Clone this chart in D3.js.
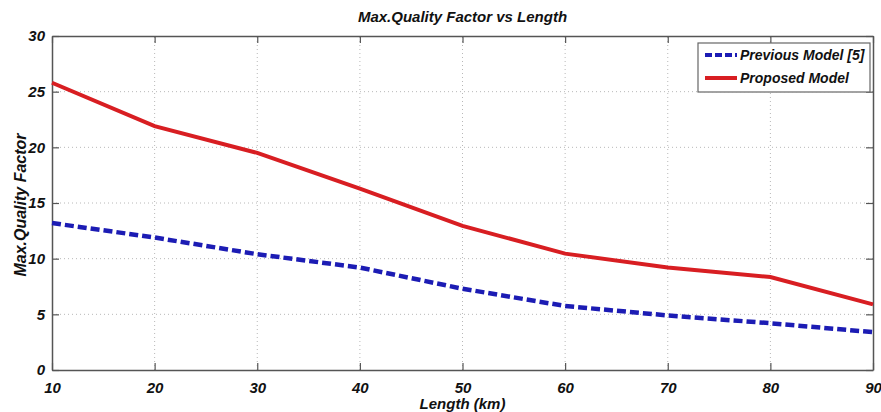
<!DOCTYPE html>
<html><head><meta charset="utf-8">
<script src="https://cdn.jsdelivr.net/npm/d3@7"></script>
<style>
body{margin:0;background:#fff;}
text{font-family:"Liberation Sans",Arial,sans-serif;font-weight:bold;font-style:italic;}
</style></head>
<body><svg id="c" width="881" height="412"></svg>
<script>
const lengths = [10,20,30,40,50,60,70,80,90];
const previousModel = [13.2,11.9,10.4,9.2,7.3,5.75,4.9,4.2,3.4];
const proposedModel = [25.8,21.9,19.5,16.3,12.95,10.45,9.2,8.35,5.9];
const xTicks = [10,20,30,40,50,60,70,80,90];
const yTicks = [0,5,10,15,20,25,30];
const seriesNames = ["Previous Model [5]","Proposed Model"];

const svg = d3.select("#c");
const m = {l:52,r:8,t:36,b:42};
const W = 881, H = 412;
const x = d3.scaleLinear().domain([10,90]).range([m.l, W-m.r]);
const y = d3.scaleLinear().domain([0,30]).range([H-m.b, m.t]);

// grid
const g = svg.append("g");
g.selectAll(".gx").data(xTicks.slice(1,-1)).enter().append("line")
 .attr("x1",d=>x(d)).attr("x2",d=>x(d)).attr("y1",y(0)).attr("y2",y(30))
 .attr("stroke","#b8b8b8").attr("stroke-width",1).attr("stroke-dasharray","1,3");
g.selectAll(".gy").data(yTicks.slice(1,-1)).enter().append("line")
 .attr("y1",d=>y(d)).attr("y2",d=>y(d)).attr("x1",x(10)).attr("x2",x(90))
 .attr("stroke","#b8b8b8").attr("stroke-width",1).attr("stroke-dasharray","1,3");

// axes
const xa = svg.append("g").attr("transform",`translate(0,${y(0)})`)
 .call(d3.axisBottom(x).tickValues(xTicks).tickSizeInner(-7).tickSizeOuter(0).tickPadding(12));
const xt = svg.append("g").attr("transform",`translate(0,${y(30)})`)
 .call(d3.axisTop(x).tickValues(xTicks).tickSizeInner(-7).tickSizeOuter(0).tickFormat(""));
const ya = svg.append("g").attr("transform",`translate(${x(10)},0)`)
 .call(d3.axisLeft(y).tickValues(yTicks).tickSizeInner(-7).tickSizeOuter(0).tickPadding(12));
const yr = svg.append("g").attr("transform",`translate(${x(90)},0)`)
 .call(d3.axisRight(y).tickValues(yTicks).tickSizeInner(-7).tickSizeOuter(0).tickFormat(""));
[xa,xt,ya,yr].forEach(a=>{
  a.selectAll("path").attr("stroke","#555").attr("stroke-width",1.5);
  a.selectAll("line").attr("stroke","#555").attr("stroke-width",1.2);
  a.selectAll("text").attr("font-size",15).attr("fill","#111")
   .style("font-family","'Liberation Sans',Arial,sans-serif").style("font-weight","bold").style("font-style","italic");
});
ya.selectAll("text").attr("dx",5);

// lines
const line = d3.line().x((d,i)=>x(lengths[i])).y(d=>y(d));
svg.append("path").datum(previousModel).attr("d",line).attr("fill","none")
 .attr("stroke","#1c1cb4").attr("stroke-width",4.5).attr("stroke-dasharray","9,4");
svg.append("path").datum(proposedModel).attr("d",line).attr("fill","none")
 .attr("stroke","#d81e22").attr("stroke-width",4);

// title and labels
svg.append("text").attr("x",(x(10)+x(90))/2).attr("y",22).attr("text-anchor","middle")
 .attr("font-size",15).attr("fill","#111").text("Max.Quality Factor vs Length");
svg.append("text").attr("x",(x(10)+x(90))/2).attr("y",409).attr("text-anchor","middle")
 .attr("font-size",15).attr("fill","#111").text("Length (km)");
svg.append("text").attr("transform",`translate(26,${(y(0)+y(30))/2 + 2}) rotate(-90)`)
 .attr("text-anchor","middle").attr("font-size",16).attr("fill","#111").text("Max.Quality Factor");

// legend
const lg = svg.append("g");
lg.append("rect").attr("x",698).attr("y",43).attr("width",172).attr("height",49)
 .attr("fill","#fff").attr("stroke","#666").attr("stroke-width",1.2);
const cols = ["#1c1cb4","#d81e22"], dashes=["7,3",null];
seriesNames.forEach((n,i)=>{
  const yy = 55 + i*23;
  lg.append("line").attr("x1",705).attr("x2",737).attr("y1",yy).attr("y2",yy)
   .attr("stroke",cols[i]).attr("stroke-width",4).attr("stroke-dasharray",dashes[i]);
  lg.append("text").attr("x",740).attr("y",yy+5).attr("font-size",14).attr("fill","#111").text(n);
});
</script></body></html>
